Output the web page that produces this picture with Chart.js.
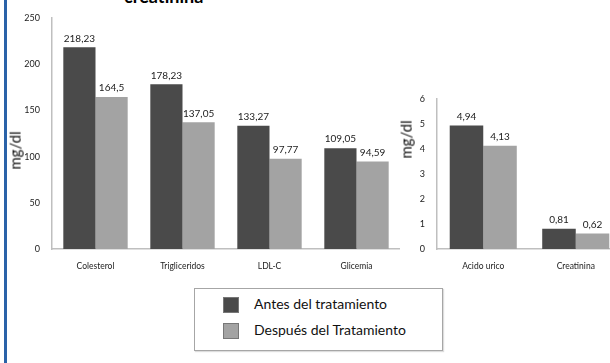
<!DOCTYPE html>
<html>
<head>
<meta charset="utf-8">
<script src="https://cdn.jsdelivr.net/npm/chart.js"></script>
<style>
  html, body { margin: 0; padding: 0; background: #fff; }
  body { width: 610px; height: 363px; position: relative; overflow: hidden; font-family: Lato, sans-serif; }
  .frame { position: absolute; left: 4px; top: 0; width: 3px; height: 363px; background: #2a62a8; }
  .title { position: absolute; left: 124px; top: -14px; font: bold 18px Lato, sans-serif; color: #000; line-height: 20px; }
  canvas { position: absolute; top: 0; }
  #left { left: 0; }
  #right { left: 400px; }
  .ytitle { position: absolute; font: 400 15px Lato, sans-serif; color: #111; transform: rotate(-90deg); transform-origin: center; white-space: nowrap; line-height: 17px; }
  .legend { position: absolute; left: 194px; top: 288px; width: 247px; height: 61px; border: 1px solid #a6a6a6; box-shadow: 1px 1px 1px #ddd; }
  .item { position: absolute; left: 28px; font: 14px Lato, sans-serif; color: #111; }
  .sw { position: absolute; left: 0; width: 14px; height: 14px; border: 1px solid #777; }
  .item span.t { position: absolute; left: 31px; top: -2px; white-space: nowrap; }
</style>
</head>
<body>
<div class="frame"></div>
<div class="title">creatinina</div>
<canvas id="left" width="400" height="280"></canvas>
<canvas id="right" width="222" height="280"></canvas>
<div class="ytitle" style="left:-4px; top:142px;">mg/dl</div>
<div class="ytitle" style="left:387px; top:131px;">mg/dl</div>
<div class="legend">
  <div class="item" style="top:8px;"><div class="sw" style="background:#4a4a4a"></div><span class="t" id="lg0"></span></div>
  <div class="item" style="top:34px;"><div class="sw" style="background:#a3a3a3"></div><span class="t" id="lg1"></span></div>
</div>
<script>
// data
const seriesNames = ['Antes del tratamiento', 'Después del Tratamiento'];
const lipidCats = ['Colesterol', 'Trigliceridos', 'LDL-C', 'Glicemia'];
const lipidAntes = [218.23, 178.23, 133.27, 109.05];
const lipidDespues = [164.5, 137.05, 97.77, 94.59];
const otherCats = ['Acido urico', 'Creatinina'];
const otherAntes = [4.94, 0.81];
const otherDespues = [4.13, 0.62];

const DARK = '#4a4a4a';
const LIGHT = '#a3a3a3';
const AXIS = '#bfbfbf';

document.getElementById('lg0').textContent = seriesNames[0];
document.getElementById('lg1').textContent = seriesNames[1];

// value labels above each bar
const barLabels = {
  id: 'barLabels',
  afterDatasetsDraw(chart) {
    const ctx = chart.ctx;
    ctx.save();
    ctx.font = '10px Lato, sans-serif';
    ctx.fillStyle = '#222';
    ctx.textAlign = 'center';
    ctx.textBaseline = 'bottom';
    chart.data.datasets.forEach((ds, i) => {
      chart.getDatasetMeta(i).data.forEach((bar, j) => {
        ctx.fillText(String(ds.data[j]).replace('.', ','), bar.x, bar.y - 4);
      });
    });
    ctx.restore();
  }
};

function makeChart(id, cats, a, b, max, step, yWidth, padTop, catPct) {
  return new Chart(document.getElementById(id), {
    type: 'bar',
    data: {
      labels: cats,
      datasets: [
        { label: seriesNames[0], data: a, backgroundColor: DARK },
        { label: seriesNames[1], data: b, backgroundColor: LIGHT }
      ]
    },
    options: {
      responsive: false,
      animation: false,
      devicePixelRatio: 1,
      layout: { padding: { top: padTop, right: 0, left: 0, bottom: 0 } },
      datasets: { bar: { categoryPercentage: catPct, barPercentage: 1 } },
      scales: {
        x: {
          grid: { display: false, drawTicks: false },
          border: { color: AXIS, width: 1.5 },
          ticks: { color: '#222', font: { family: 'Lato', size: 8.5 }, padding: 12, maxRotation: 0 },
          afterFit(s) { s.height = 31; }
        },
        y: {
          min: 0, max: max,
          grid: { display: false, drawTicks: false },
          border: { color: AXIS, width: 1.5 },
          ticks: { stepSize: step, color: '#222', font: { family: 'Lato', size: 9 }, padding: 12 },
          afterFit(s) { s.width = yWidth; }
        }
      },
      plugins: { legend: { display: false }, tooltip: { enabled: false } }
    },
    plugins: [barLabels]
  });
}

makeChart('left', lipidCats, lipidAntes, lipidDespues, 250, 50, 52, 18, 0.74);
makeChart('right', otherCats, otherAntes, otherDespues, 6, 1, 37, 99, 0.725);
</script>
</body>
</html>
